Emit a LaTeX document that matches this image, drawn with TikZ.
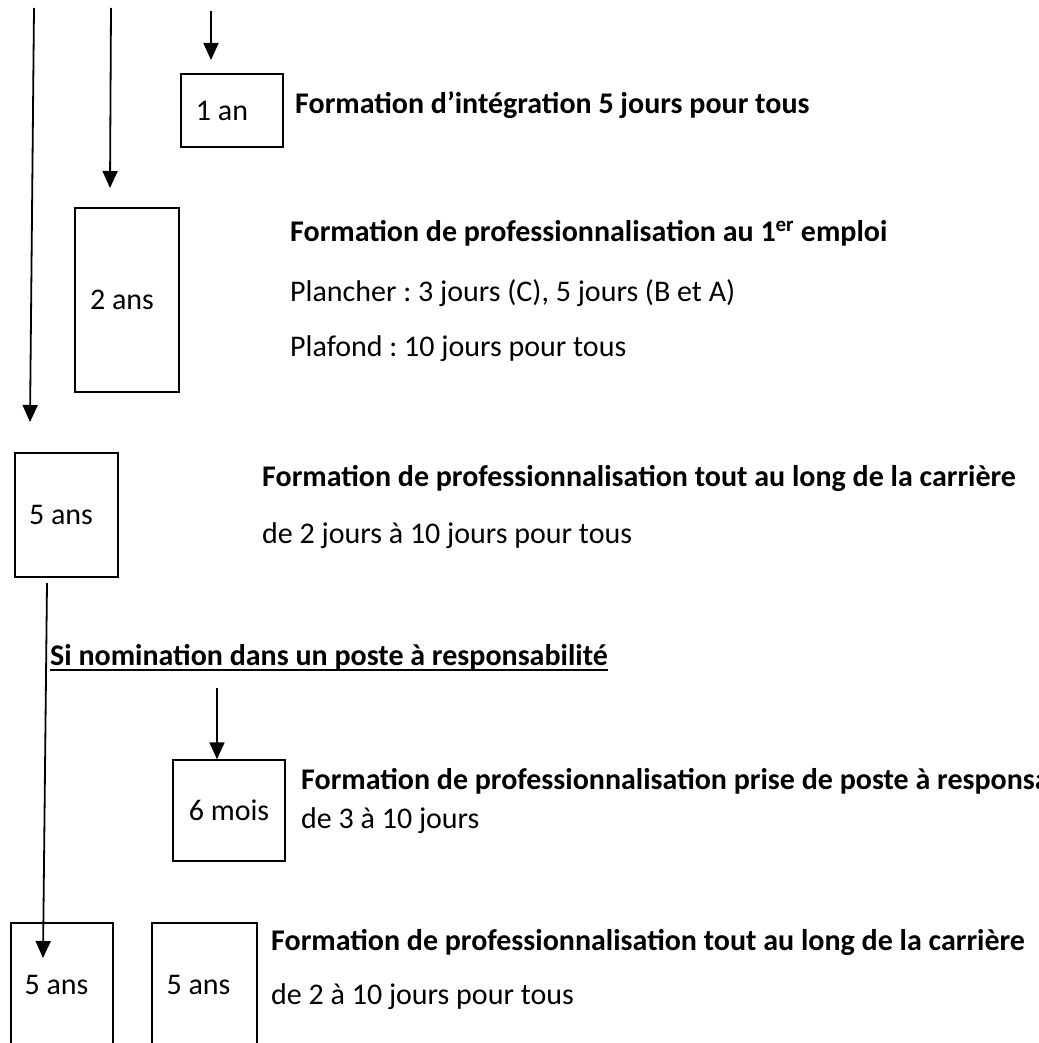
\documentclass[tikz,border=0pt]{standalone}
\usepackage{fontspec}
\setmainfont{Carlito}
\usetikzlibrary{arrows.meta,calc}
\frenchspacing
\begin{document}
\begin{tikzpicture}[x=1pt,y=-1pt,
  conn/.style={line width=1.8pt,-{Triangle[length=17pt,width=15pt]}},
  boxnode/.style={draw,line width=1.4pt,rectangle,inner sep=0pt,font=\fontsize{30}{36}\selectfont},
  txt/.style={anchor=base west,inner sep=0pt,font=\fontsize{30}{36}\selectfont},
  btxt/.style={txt,font=\fontsize{30}{36}\selectfont\bfseries}]
\clip (0,0) rectangle (1038,1043);
\fill[white] (0,0) rectangle (1038,1043);
% boxes
\node[boxnode,minimum width=102pt,minimum height=73pt] (b1) at (232,110.5) {1 an\hspace*{20pt}};
\node[boxnode,minimum width=104pt,minimum height=184pt] (b2) at (127,300) {2 ans\hspace*{10pt}};
\node[boxnode,minimum width=103pt,minimum height=124pt] (b3) at (66.5,515) {5 ans\hspace*{11pt}};
\node[boxnode,minimum width=112pt,minimum height=101pt] (b4) at (229,810.5) {6 mois};
\node[boxnode,minimum width=102pt,minimum height=123pt] (b5) at (62,984.5) {5 ans\hspace*{11pt}};
\node[boxnode,minimum width=105pt,minimum height=123pt] (b6) at (204.5,984.5) {5 ans\hspace*{12pt}};
% free ends
\coordinate (s1) at (34,8);
\coordinate (e1) at (30,422);
\coordinate (s2) at (111,8);
\coordinate (e2) at (110,188);
\coordinate (s3) at (211,11);
\coordinate (e3) at (211,60);
\coordinate (s4) at (47,583);
\coordinate (e4) at (43,958);
\coordinate (s5) at (217,688);
% connectors
\draw[conn] (s1) -- (e1);
\draw[conn] (s2) -- (e2);
\draw[conn] (s3) -- (e3);
\draw[conn] (s4) -- (e4);
\draw[conn] (s5) -- (b4.north -| s5);
% texts
\node[btxt] (t1) at (295,114) {Formation d’intégration 5 jours pour tous};
\node[btxt] (t2) at (290,241) {Formation de professionnalisation au 1\textsuperscript{er} emploi};
\node[txt] (t3) at (290,301) {Plancher : 3 jours (C), 5 jours (B et A)};
\node[txt] (t4) at (290,356) {Plafond : 10 jours pour tous};
\node[btxt] (t5) at (262,486) {Formation de professionnalisation tout au long de la carrière};
\node[txt] (t6) at (262,543) {de 2 jours à 10 jours pour tous};
\node[btxt] (t7) at (50,665) {Si nomination dans un poste à responsabilité};
\draw[line width=1.3pt] ($(t7.base west)+(0,5)$) -- ($(t7.base east)+(0,5)$);
\node[btxt] (t8) at (301,789) {Formation de professionnalisation prise de poste à responsa};
\node[txt] (t9) at (301,828) {de 3 à 10 jours};
\node[btxt] (t10) at (271,950) {Formation de professionnalisation tout au long de la carrière};
\node[txt] (t11) at (271,1004) {de 2 à 10 jours pour tous};
\end{tikzpicture}
\end{document}
